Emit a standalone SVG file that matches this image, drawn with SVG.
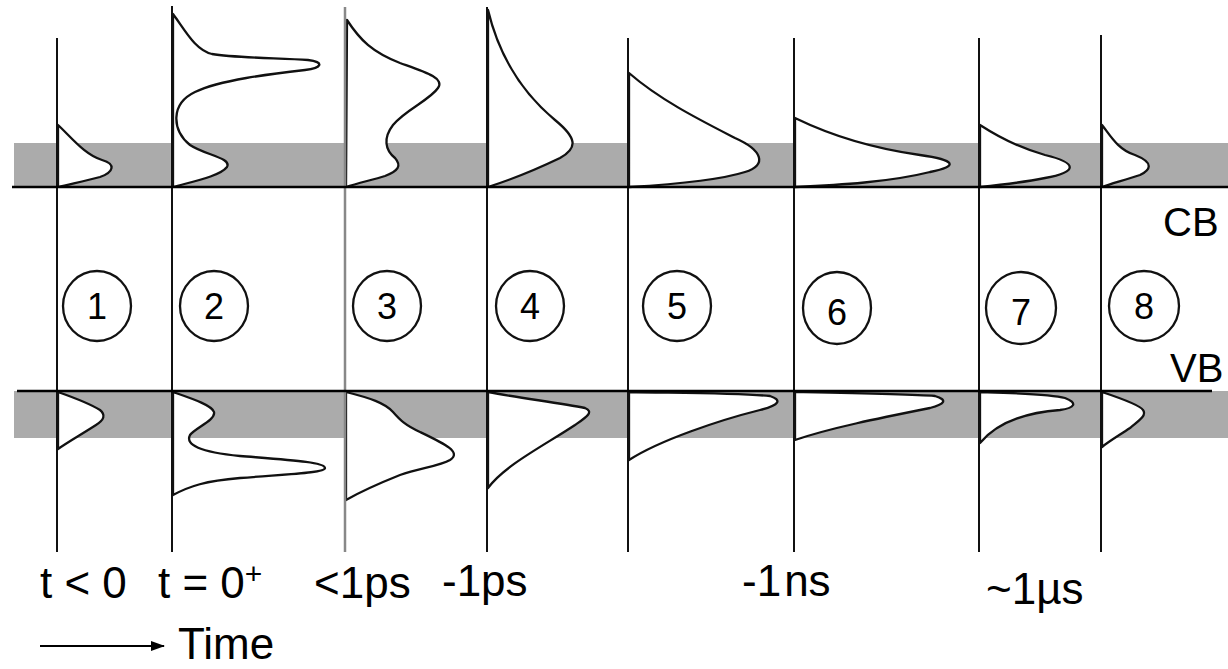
<svg xmlns="http://www.w3.org/2000/svg" width="1228" height="669" viewBox="0 0 1228 669">
<style>
.band{fill:#ababab}
.dist{fill:#fff;stroke:#111;stroke-width:2.3;stroke-linejoin:round}
.vl{stroke:#111;stroke-width:2}
.vg{stroke:#888;stroke-width:2.5}
.hl{stroke:#000;stroke-width:2.5}
.lbl{font-family:"Liberation Sans",Arial,sans-serif;font-size:44px;fill:#000}
.side{font-family:"Liberation Sans",Arial,sans-serif;font-size:40px;fill:#000}
.num{font-family:"Liberation Sans",Arial,sans-serif;font-size:36px;fill:#000;text-anchor:middle}
.circ{fill:none;stroke:#111;stroke-width:2.3}
</style>
<defs>
<marker id="ah" markerWidth="14" markerHeight="10" refX="13" refY="5" orient="auto" markerUnits="userSpaceOnUse">
<path d="M0,0 L14,5 L0,10 Z" fill="#000"/>
</marker>
</defs>
<rect width="1228" height="669" fill="#fff"/>
<g id="bands">
<rect class="band" x="14" y="143" width="1214" height="44"/>
<rect class="band" x="14" y="391" width="1214" height="47"/>
</g>
<g id="cb-distributions">
<path class="dist" d="M58,125 C72,138 85,155 102,160 C116,164 114,172 100,177 C85,181 70,184 58,187 Z"/>
<path class="dist" d="M173,14 C185,30 195,50 212,54 C235,58 280,58 308,60 C325,62 322,68 305,70 C270,74 220,80 195,92 C170,104 172,130 190,145 C205,155 232,158 227,167 C220,176 195,181 173,187 Z"/>
<path class="dist" d="M347,20 C360,40 372,52 400,63 C425,72 445,78 438,88 C430,100 405,110 393,125 C383,138 385,150 395,158 C402,166 398,171 385,176 C372,180 358,183 346,187 Z"/>
<path class="dist" d="M488,10 C500,60 525,95 555,120 C577,138 578,148 560,158 C535,170 510,180 488,187 Z"/>
<path class="dist" d="M629,73 C660,100 700,120 735,138 C762,150 768,165 745,172 C720,180 680,184 629,187 Z"/>
<path class="dist" d="M795,118 C830,135 870,148 920,155 C955,160 960,166 930,172 C890,182 840,185 795,187 Z"/>
<path class="dist" d="M980,125 C1000,138 1020,148 1045,155 C1078,163 1078,172 1045,178 C1020,183 1000,185 980,187 Z"/>
<path class="dist" d="M1102,125 C1110,135 1118,150 1135,155 C1155,163 1150,170 1140,175 C1125,180 1110,184 1102,187 Z"/>
</g>
<g id="vb-distributions">
<path class="dist" d="M58,392 C75,398 92,405 100,410 C106,415 104,420 96,425 C82,434 68,442 58,449 Z"/>
<path class="dist" d="M173,392 C190,398 212,405 214,412 C216,420 195,428 190,435 C185,445 200,452 240,456 C290,460 325,462 325,468 C325,473 290,474 240,478 C205,481 190,486 173,495 Z"/>
<path class="dist" d="M346,392 C370,398 385,403 393,412 C400,420 405,425 420,432 C445,444 462,452 450,460 C440,466 420,468 400,475 C380,483 360,492 346,500 Z"/>
<path class="dist" d="M488,392 C520,398 560,403 585,408 C595,412 585,418 575,425 C545,445 505,465 488,488 Z"/>
<path class="dist" d="M629,392 C680,393 740,393 770,396 C782,400 780,405 760,410 C720,420 660,440 629,460 Z"/>
<path class="dist" d="M795,392 C850,393 910,394 935,396 C948,400 945,404 930,408 C880,418 830,428 795,440 Z"/>
<path class="dist" d="M980,392 C1010,393 1050,394 1065,398 C1078,403 1075,408 1060,410 C1020,413 995,425 980,443 Z"/>
<path class="dist" d="M1102,392 C1120,398 1140,405 1143,410 C1147,415 1140,420 1130,428 C1118,436 1108,442 1102,447 Z"/>
</g>
<g id="time-lines">
<line class="vl" x1="57" y1="38" x2="57" y2="552"/>
<line class="vl" x1="172" y1="6" x2="172" y2="552"/>
<line class="vg" x1="345" y1="7" x2="345" y2="552"/>
<line class="vl" x1="487" y1="7" x2="487" y2="552"/>
<line class="vl" x1="628" y1="38" x2="628" y2="552"/>
<line class="vl" x1="794" y1="38" x2="794" y2="552"/>
<line class="vl" x1="979" y1="38" x2="979" y2="552"/>
<line class="vl" x1="1101" y1="35" x2="1101" y2="552"/>
</g>
<g id="band-edges">
<line class="hl" x1="12" y1="187" x2="1228" y2="187"/>
<line class="hl" x1="17" y1="391" x2="1212" y2="391"/>
<text class="side" x="1163" y="236">CB</text>
<text class="side" x="1170" y="382">VB</text>
</g>
<g id="stages">
<g id="s1"><ellipse class="circ" cx="97" cy="306" rx="34" ry="35"/><text class="num" x="97" y="319">1</text></g>
<g id="s2"><ellipse class="circ" cx="214" cy="306" rx="34" ry="35"/><text class="num" x="214" y="319">2</text></g>
<g id="s3"><ellipse class="circ" cx="387" cy="306" rx="34" ry="35"/><text class="num" x="387" y="319">3</text></g>
<g id="s4"><ellipse class="circ" cx="530" cy="306" rx="34" ry="35"/><text class="num" x="530" y="319">4</text></g>
<g id="s5"><ellipse class="circ" cx="677" cy="306" rx="34" ry="35"/><text class="num" x="677" y="319">5</text></g>
<g id="s6"><ellipse class="circ" cx="837" cy="308" rx="34" ry="36"/><text class="num" x="837" y="325">6</text></g>
<g id="s7"><ellipse class="circ" cx="1021" cy="308" rx="35" ry="36"/><text class="num" x="1021" y="325">7</text></g>
<g id="s8"><ellipse class="circ" cx="1144" cy="306" rx="35" ry="35"/><text class="num" x="1144" y="319">8</text></g>
</g>
<g id="time-labels">
<text class="lbl" x="40" y="598" xml:space="preserve">t &lt; 0</text>
<text class="lbl" x="158" y="598" xml:space="preserve">t = 0<tspan dy="-14" style="font-size:30px">+</tspan></text>
<text class="lbl" x="314" y="598">&lt;1ps</text>
<text class="lbl" x="442" y="596">-1ps</text>
<text class="lbl" x="742" y="596">-1<tspan dx="3">ns</tspan></text>
<text class="lbl" x="986" y="604">~1µs</text>
</g>
<g id="connectors">
<line x1="40" y1="646" x2="164" y2="646" stroke="#000" stroke-width="2" marker-end="url(#ah)"/>
</g>
<text class="lbl" x="178" y="659">Time</text>
</svg>
